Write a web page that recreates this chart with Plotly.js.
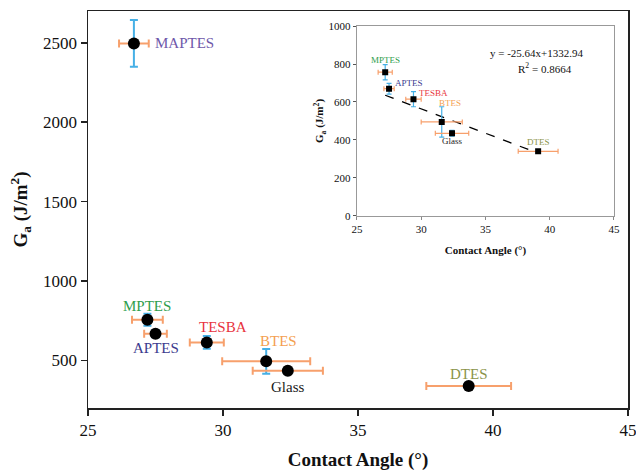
<!DOCTYPE html>
<html>
<head>
<meta charset="utf-8">
<script src="https://cdn.plot.ly/plotly-3.0.1.min.js"></script>
<style>html,body{margin:0;padding:0;background:#fff;}#chart{width:636px;height:473px;}</style>
</head>
<body>
<div id="chart"></div>
<script>
// Main chart data
const mainNames = ["MAPTES", "MPTES", "APTES", "TESBA", "BTES", "Glass", "DTES"];
const mainAngle = [26.7, 27.2, 27.5, 29.4, 31.6, 32.4, 39.1];
const mainAngleErr = [0.55, 0.57, 0.42, 0.63, 1.63, 1.3, 1.57];
const mainGa = [2496, 756, 668, 613, 494, 435, 338];
const mainGaErr = [147, 38, 22, 40, 78, 15, 8];

// Inset data (without MAPTES)
const insetNames = ["MPTES", "APTES", "TESBA", "BTES", "Glass", "DTES"];
const insetAngle = [27.2, 27.5, 29.4, 31.6, 32.4, 39.1];
const insetAngleErr = [0.55, 0.4, 0.6, 1.6, 1.3, 1.55];
const insetGa = [757, 670, 615, 495, 435, 340];
const insetGaErr = [40, 28, 40, 80, 15, 8];

// Linear fit line shown in the inset
const fitAngle = [27.2, 39.1];
const fitGa = [635.5, 330.4];
const fitText = ["y = -25.64x+1332.94", "R<sup>2</sup> = 0.8664"];

const xTicks = [25, 30, 35, 40, 45];
const mainYTicks = [500, 1000, 1500, 2000, 2500];
const insetYTicks = [0, 200, 400, 600, 800, 1000];

const labelColors = {
  MAPTES: "#6f58aa", MPTES: "#2f9e4c", APTES: "#3c3a8e", TESBA: "#e8333e",
  BTES: "#f4a04f", Glass: "#1a1a1a", DTES: "#8b944a"
};
const mainOffsets = {
  MAPTES: [19, 0, "left"], MPTES: [0, 14, "center"], APTES: [0, -14, "center"],
  TESBA: [16, 15, "center"], BTES: [12, 20, "center"], Glass: [0, -16, "center"], DTES: [0, 12, "center"]
};
const insetOffsets = {
  MPTES: [0, 12, "center"], APTES: [4, 6, "left"], TESBA: [4, 6, "left"],
  BTES: [8, 19, "center"], Glass: [0, -8, "center"], DTES: [0, 9, "center"]
};

const SERIF = "serif";
const ORANGE = "#f7a06c";
const BLUE = "#46b0e6";

const traces = [
  {
    x: mainAngle, y: mainGa, type: "scatter", mode: "markers",
    xaxis: "x", yaxis: "y",
    marker: {color: "#000", size: 12, symbol: "circle"},
    error_x: {type: "data", array: mainAngleErr, visible: true, color: ORANGE, thickness: 2, width: 4},
    error_y: {type: "data", array: mainGaErr, visible: true, color: BLUE, thickness: 2, width: 4},
    hoverinfo: "skip", showlegend: false
  },
  {
    x: fitAngle, y: fitGa, type: "scatter", mode: "lines",
    xaxis: "x2", yaxis: "y2",
    line: {color: "#000", width: 1.3, dash: "dash"},
    hoverinfo: "skip", showlegend: false
  },
  {
    x: insetAngle, y: insetGa, type: "scatter", mode: "markers",
    xaxis: "x2", yaxis: "y2",
    marker: {color: "#000", size: 6, symbol: "square"},
    error_x: {type: "data", array: insetAngleErr, visible: true, color: ORANGE, thickness: 1.2, width: 2.5},
    error_y: {type: "data", array: insetGaErr, visible: true, color: BLUE, thickness: 1.2, width: 2.5},
    hoverinfo: "skip", showlegend: false
  }
];

const annotations = [];
mainNames.forEach((n, i) => {
  const o = mainOffsets[n];
  annotations.push({
    x: mainAngle[i], y: mainGa[i], xref: "x", yref: "y", text: n, showarrow: false,
    xanchor: o[2], yanchor: "middle", xshift: o[0], yshift: o[1],
    font: {family: SERIF, size: 15, color: labelColors[n]}
  });
});
insetNames.forEach((n, i) => {
  const o = insetOffsets[n];
  annotations.push({
    x: insetAngle[i], y: insetGa[i], xref: "x2", yref: "y2", text: n, showarrow: false,
    xanchor: o[2], yanchor: "middle", xshift: o[0], yshift: o[1],
    font: {family: SERIF, size: 9, color: labelColors[n]}
  });
});
annotations.push({
  x: 0.7, y: 0.86, xref: "x2 domain", yref: "y2 domain", text: fitText[0], showarrow: false,
  xanchor: "center", yanchor: "middle", font: {family: SERIF, size: 11, color: "#111"}
});
annotations.push({
  x: 0.73, y: 0.78, xref: "x2 domain", yref: "y2 domain", text: fitText[1], showarrow: false,
  xanchor: "center", yanchor: "middle", font: {family: SERIF, size: 11, color: "#111"}
});

const layout = {
  width: 636, height: 473,
  margin: {l: 88, r: 8, t: 11, b: 65},
  paper_bgcolor: "#fff", plot_bgcolor: "rgba(0,0,0,0)",
  font: {family: SERIF, color: "#111"},
  showlegend: false,
  xaxis: {
    domain: [0, 1], range: [25, 45], tickvals: xTicks, ticks: "outside", ticklen: 6, tickwidth: 1.5,
    tickcolor: "#222", showline: true, linecolor: "#222", linewidth: 1.5, mirror: true, ticklabeloverflow: "allow",
    showgrid: false, zeroline: false, tickfont: {family: SERIF, size: 17, color: "#111"},
    title: {text: "<b>Contact Angle (°)</b>", font: {family: SERIF, size: 19, color: "#111"}, standoff: 14},
    anchor: "y"
  },
  yaxis: {
    domain: [0, 1], range: [200, 2700], tickvals: mainYTicks, ticks: "outside", ticklen: 6, tickwidth: 1.5,
    tickcolor: "#222", showline: true, linecolor: "#222", linewidth: 1.5, mirror: true,
    showgrid: false, zeroline: false, tickfont: {family: SERIF, size: 17, color: "#111"},
    title: {text: "<b>G<sub>a</sub> (J/m<sup>2</sup>)</b>", font: {family: SERIF, size: 19, color: "#111"}, standoff: 10},
    anchor: "x"
  },
  xaxis2: {
    domain: [0.498, 0.974], range: [25, 45], tickvals: xTicks, ticks: "outside", ticklen: 3, tickwidth: 1,
    tickcolor: "#888", showline: true, linecolor: "#999", linewidth: 1.3, mirror: true,
    showgrid: false, zeroline: false, tickfont: {family: SERIF, size: 11, color: "#111"},
    title: {text: "<b>Contact Angle (°)</b>", font: {family: SERIF, size: 11, color: "#111"}, standoff: 12},
    anchor: "y2"
  },
  yaxis2: {
    domain: [0.484, 0.962], range: [0, 1000], tickvals: insetYTicks, ticks: "outside", ticklen: 3, tickwidth: 1,
    tickcolor: "#555", showline: true, linecolor: "#999", linewidth: 1.3, mirror: true,
    showgrid: false, zeroline: false, tickfont: {family: SERIF, size: 11, color: "#111"},
    title: {text: "<b>G<sub>a</sub> (J/m<sup>2</sup>)</b>", font: {family: SERIF, size: 11, color: "#111"}, standoff: 2},
    anchor: "x2"
  },
  annotations: annotations
};

Plotly.newPlot("chart", traces, layout, {displayModeBar: false, staticPlot: true});
</script>
</body>
</html>
